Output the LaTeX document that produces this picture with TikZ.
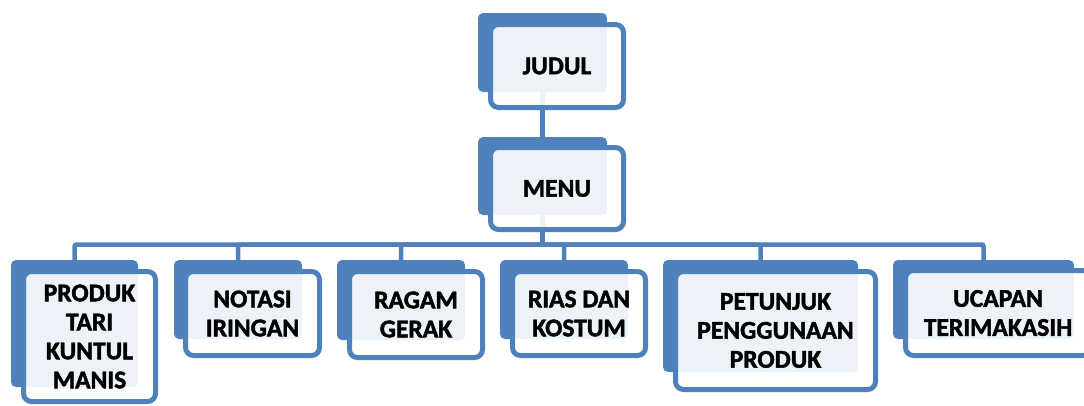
\documentclass[tikz,border=0pt]{standalone}
\usepackage{fontspec}
\setmainfont{Carlito}[BoldFont={Carlito Bold},BoldFeatures={FakeBold=1.8}]
\definecolor{smblue}{RGB}{79,129,189}
\begin{document}
\begin{tikzpicture}[x=1pt,y=-1pt,
  backbox/.style={rectangle,fill=smblue,draw=none,rounded corners=5pt,inner sep=0pt},
  frontbox/.style={rectangle,draw=smblue,line width=5pt,fill=white,fill opacity=0.9,
     draw opacity=1,text opacity=1,rounded corners=8pt,inner sep=0pt,align=center,
     font=\bfseries\fontsize{25.5}{29}\selectfont},
  link/.style={draw=smblue,line width=4.5pt},
  buslink/.style={draw=smblue,line width=4.5pt,rounded corners=2pt}]
\useasboundingbox (0,0) rectangle (1084,405);
% back rectangles
\node[backbox,minimum width=129pt,minimum height=79pt] (judulB) at (542.5,52.5) {};
\node[backbox,minimum width=129pt,minimum height=78pt] (menuB) at (542.5,176) {};
\node[backbox,minimum width=127pt,minimum height=127pt] (produkB) at (74.5,323.5) {};
\node[backbox,minimum width=128pt,minimum height=79pt] (notasiB) at (238,299.5) {};
\node[backbox,minimum width=128pt,minimum height=80pt] (ragamB) at (401,300) {};
\node[backbox,minimum width=128pt,minimum height=79pt] (riasB) at (564,299.5) {};
\node[backbox,minimum width=195pt,minimum height=112pt] (petunjukB) at (760.5,316) {};
\node[backbox,minimum width=181pt,minimum height=79pt] (ucapanB) at (983.5,299.5) {};
% connectors
\draw[link] (judulB.south) -- (menuB.north);
\coordinate (bus) at (542.5,244.5);
\draw[link] (menuB.south) -- (bus);
\foreach \c in {produkB,notasiB,ragamB,riasB,petunjukB,ucapanB}{
  \draw[buslink] (bus) -| (\c.north);
}
% front boxes
\node[frontbox,minimum width=133pt,minimum height=83pt] (judul) at (557,66) {JUDUL};
\node[frontbox,minimum width=133pt,minimum height=82pt] (menu) at (557,188.5) {MENU};
\node[frontbox,minimum width=132pt,minimum height=130pt] (produk) at (89.5,336.5) {PRODUK\\TARI\\KUNTUL\\MANIS};
\node[frontbox,minimum width=134pt,minimum height=84pt] (notasi) at (252.5,313.5) {NOTASI\\IRINGAN};
\node[frontbox,minimum width=133pt,minimum height=86pt] (ragam) at (416,314.5) {RAGAM\\GERAK};
\node[frontbox,minimum width=133pt,minimum height=84pt] (rias) at (579,313.5) {RIAS DAN\\KOSTUM};
\node[frontbox,minimum width=200pt,minimum height=118pt] (petunjuk) at (775.5,330.5) {PETUNJUK\\PENGGUNAAN\\PRODUK};
\node[frontbox,minimum width=185pt,minimum height=85pt] (ucapan) at (998,313) {UCAPAN\\TERIMAKASIH};
\end{tikzpicture}
\end{document}
